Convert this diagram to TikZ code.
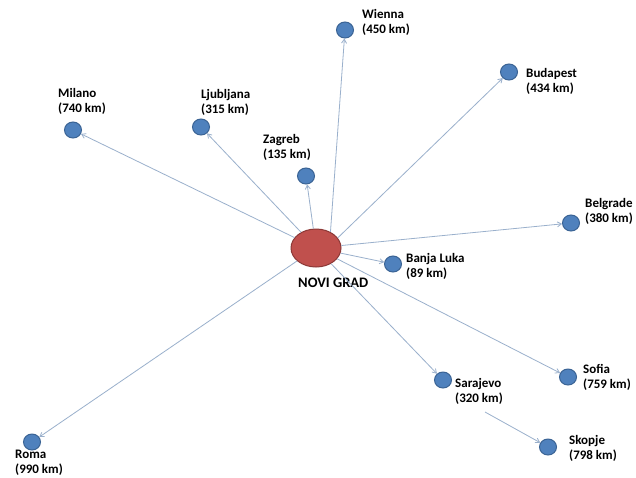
\documentclass[tikz,border=0pt]{standalone}
\usepackage{fontspec}
\setmainfont{Carlito}
\usetikzlibrary{shapes.geometric,arrows.meta}
\definecolor{cityfill}{HTML}{4F81BD}
\definecolor{cityline}{HTML}{3A6394}
\definecolor{hubfill}{HTML}{C0504D}
\definecolor{hubline}{HTML}{8C3836}
\definecolor{linkcol}{HTML}{9AB0CC}
\tikzset{
  city/.style={ellipse, minimum width=17pt, minimum height=16pt, inner sep=0pt, fill=cityfill, draw=cityline, line width=1pt},
  hub/.style={ellipse, minimum width=50pt, minimum height=38pt, inner sep=0pt, fill=hubfill, draw=hubline, line width=1pt},
  lbl/.style={anchor=north west, inner sep=0pt, align=left, font=\fontsize{13}{15}\selectfont\bfseries, text=black},
  link/.style={draw=linkcol, line width=0.8pt, -{Straight Barb[length=4pt,width=5pt]}}
}
\begin{document}
\begin{tikzpicture}[x=1pt,y=-1pt]
\useasboundingbox (0,0) rectangle (636,477);
\fill[white] (0,0) rectangle (636,477);
% hub
\node[hub] (c) at (316,248) {};
\node[anchor=base west, inner sep=0pt, font=\fontsize{14.5}{16}\selectfont\bfseries, text=black] (cl) at (298,287) {NOVI GRAD};
% cities
\node[city] (milano) at (73,130) {};
\node[city] (ljub) at (201,127) {};
\node[city] (zagreb) at (306,176) {};
\node[city] (wienna) at (345,30) {};
\node[city] (buda) at (509,72) {};
\node[city] (belg) at (571,223) {};
\node[city] (banja) at (393,264) {};
\node[city] (sofia) at (568,377) {};
\node[city] (sara) at (443,380) {};
\node[city] (skopje) at (548,447) {};
\node[city] (roma) at (32,442) {};
% labels (position = first baseline minus strut height)
\node[lbl] (lmilano) at (58,86.5) {\strut Milano\\(740 km)};
\node[lbl] (lljub) at (201,87.5) {\strut Ljubljana\\(315 km)};
\node[lbl] (lzagreb) at (263,132.5) {\strut Zagreb\\(135 km)};
\node[lbl] (lwienna) at (362,7.5) {\strut Wienna\\(450 km)};
\node[lbl] (lbuda) at (526,66.5) {\strut Budapest\\(434 km)};
\node[lbl] (lbelg) at (585,196.5) {\strut Belgrade\\(380 km)};
\node[lbl] (lbanja) at (406,251.5) {\strut Banja Luka\\(89 km)};
\node[lbl] (lsofia) at (583,362.5) {\strut Sofia\\(759 km)};
\node[lbl] (lsara) at (455,376.5) {\strut Sarajevo\\(320 km)};
\node[lbl] (lskopje) at (569,433.5) {\strut Skopje\\(798 km)};
\node[lbl] (lroma) at (15,447.5) {\strut Roma\\(990 km)};
% connectors
\draw[link] (c) -- (milano);
\draw[link] (c) -- (ljub);
\draw[link] (c) -- (zagreb);
\draw[link] (c.48) -- (wienna);
\draw[link] (c.25) -- (buda);
\draw[link] (c) -- (belg);
\draw[link] (c) -- (banja);
\draw[link] (c) -- (sofia);
\draw[link] (c) -- (sara);
\draw[link] (c) -- (roma);
\coordinate (sk0) at (485,412);
\draw[link] (sk0) -- (skopje);
\end{tikzpicture}
\end{document}
